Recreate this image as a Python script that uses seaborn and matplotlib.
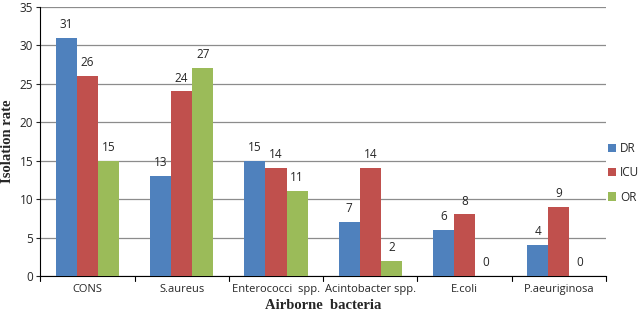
import pandas as pd
import matplotlib.pyplot as plt
import seaborn as sns

# Chart data
bacteria = ['CONS', 'S.aureus', 'Enterococci  spp.', 'Acintobacter spp.', 'E.coli', 'P.aeuriginosa']
dr = [31, 13, 15, 7, 6, 4]
icu = [26, 24, 14, 14, 8, 9]
or_ = [15, 27, 11, 2, 0, 0]
wards = ['DR', 'ICU', 'OR']

data = pd.DataFrame({
    'bacteria': bacteria * 3,
    'ward': [w for w in wards for _ in bacteria],
    'rate': dr + icu + or_,
})

sns.set_style('white')
plt.rcParams['font.family'] = ['Open Sans', 'DejaVu Sans']

fig = plt.figure(figsize=(6.38, 3.15), dpi=100)
ax = fig.add_axes([0.063, 0.124, 0.887, 0.854])

colors = ['#4F81BD', '#C0504D', '#9BBB59']
sns.barplot(data=data, x='bacteria', y='rate', hue='ward', palette=colors,
            width=0.67, saturation=1, linewidth=0, ax=ax, zorder=3)

for c in ax.containers:
    ax.bar_label(c, padding=5, fontsize=8.5)

ax.set_ylim(0, 35)
ax.set_yticks(range(0, 36, 5))
ax.yaxis.grid(True, color='#8c8c8c', linewidth=0.9, zorder=0)
ax.set_xlim(-0.5, 5.5)
ax.set_xticks(range(6))
ax.set_xticklabels(bacteria, fontsize=8)
ax.tick_params(axis='y', labelsize=8.5, length=3, width=0.8, direction='out', left=True, pad=2)
ax.tick_params(axis='x', length=0, pad=6)
# boundary ticks between categories
for b in [i - 0.5 for i in range(7)]:
    ax.plot([b, b], [0, -0.6], color='black', lw=0.8, clip_on=False)

for s in ['top', 'right']:
    ax.spines[s].set_visible(False)
ax.spines['left'].set_color('black')
ax.spines['bottom'].set_color('black')

ax.set_ylabel('Isolation rate', family='Liberation Serif', fontweight='bold', fontsize=10.5, labelpad=4)
ax.set_xlabel('Airborne  bacteria', family='Liberation Serif', fontweight='bold', fontsize=10.5, labelpad=3)

ax.legend(loc='center left', bbox_to_anchor=(0.995, 0.383), frameon=False, fontsize=8.5,
          handlelength=0.7, handleheight=0.7, handletextpad=0.3, labelspacing=0.95,
          borderaxespad=0)

fig.savefig('out.png', dpi=100)
